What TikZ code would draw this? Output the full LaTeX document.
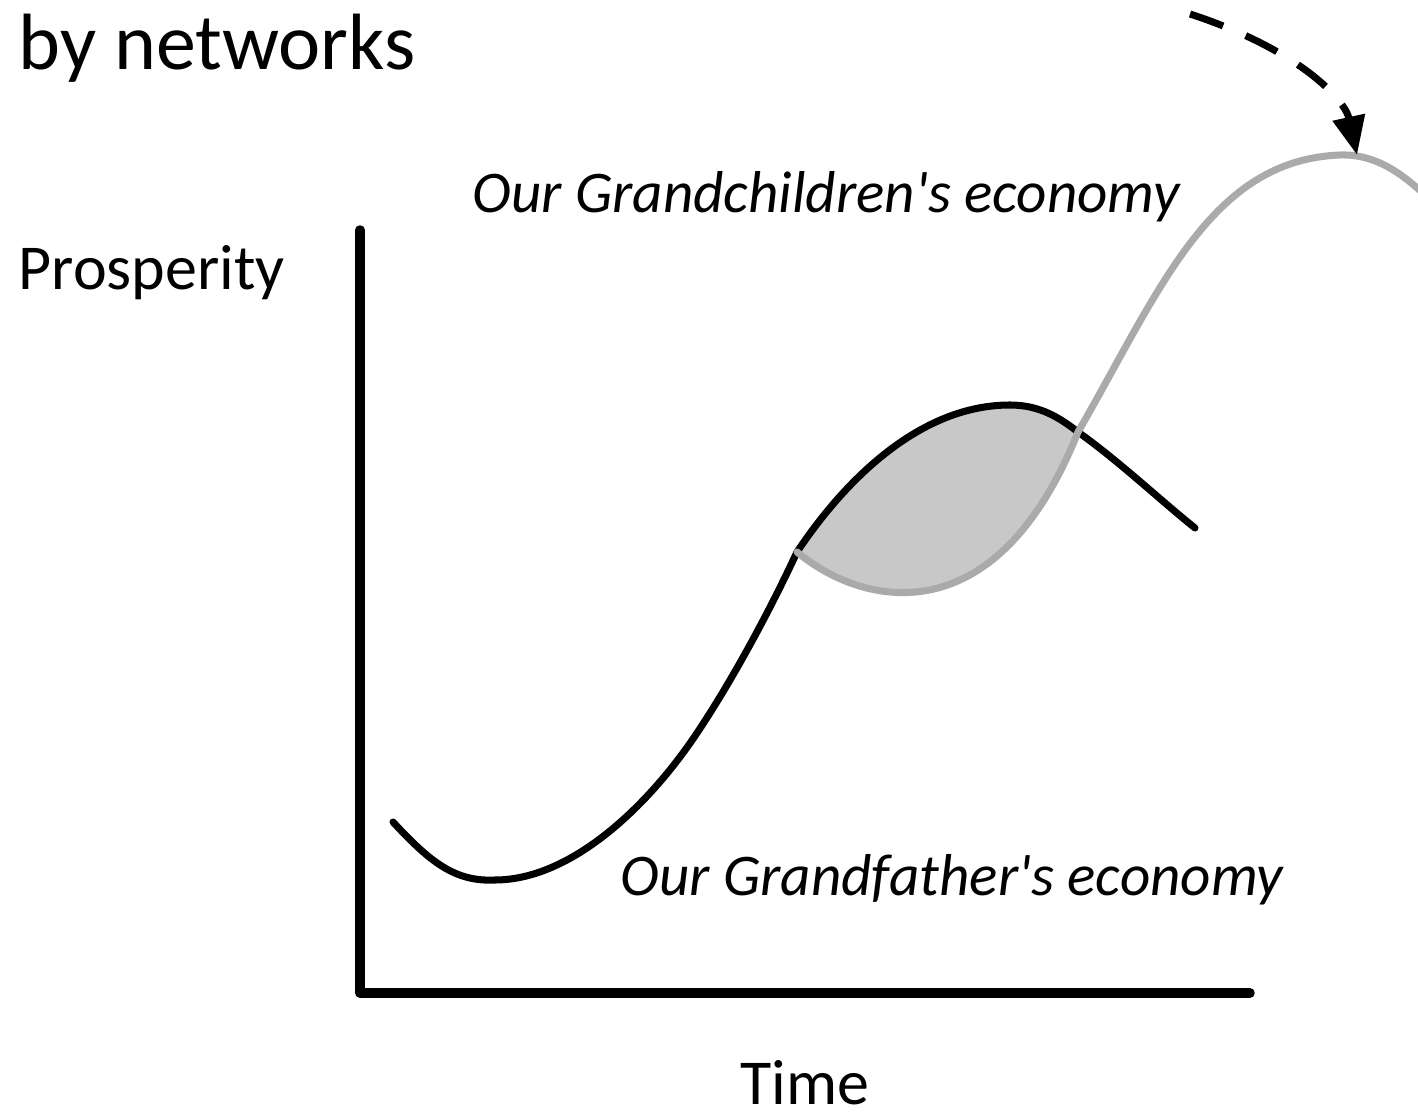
\documentclass[tikz,border=0pt]{standalone}
\usepackage{fontspec}
\setmainfont{Carlito}
\usetikzlibrary{arrows.meta}
\definecolor{newline}{HTML}{AAAAAA}
\definecolor{overlap}{HTML}{C8C8C8}
\tikzset{
  axis/.style={line width=2.7pt, line cap=round, line join=round},
  curve/.style={line width=2pt, line cap=round},
  label/.style={inner sep=0pt, anchor=base west, font=\fontsize{18.2}{22}\selectfont},
  tag/.style={inner sep=0pt, anchor=base west, font=\fontsize{16.8}{20}\selectfont\itshape}
}
\begin{document}
\begin{tikzpicture}[x=0.01cm, y=-0.01cm]
            \useasboundingbox (0,0) rectangle (1418,1116);
            % points on the curves
            \coordinate (origin) at (360,993);
            \coordinate (ytop) at (360,230);
            \coordinate (xend) at (1250,993);
            \coordinate (start) at (393,822);
            \coordinate (low) at (495,880);
            \coordinate (rise) at (697,733);
            \coordinate (split) at (797,552);
            \coordinate (peak) at (1010,405);
            \coordinate (cross) at (1078,432);
            \coordinate (stop) at (1195,528);
            \coordinate (summit) at (1340,155);
            \coordinate (exit) at (1425,195);
            \coordinate (from) at (1190,14);
            % shaded overlap
            \fill [overlap] (split) .. controls (845,480) and (920,405) .. (peak)
                .. controls (1040,405) and (1060,418) .. (cross)
                .. controls (995,640) and (860,605) .. (split) -- cycle;
            % axes
            \draw [axis] (ytop) -- (origin) -- (xend);
            % old economy
            \draw [curve] (start) .. controls (430,862) and (455,882) .. (low)
                .. controls (570,880) and (647,808) .. (rise)
                .. controls (735,676) and (772,606) .. (split)
                .. controls (845,480) and (920,405) .. (peak)
                .. controls (1040,405) and (1060,418) .. (cross)
                .. controls (1120,462) and (1160,500) .. (stop);
            % new economy
            \draw [curve, newline] (split) .. controls (860,605) and (995,640) .. (cross)
                .. controls (1160,290) and (1210,160) .. (summit)
                .. controls (1375,154) and (1400,172) .. (exit);
            \draw [curve, line cap=butt, dash pattern=on 10pt off 7pt, -{Triangle[length=11pt,width=9pt]}]
                (from) .. controls (1300,50) and (1345,100) .. (1357,155);
            % texts
            \node [label, font=\fontsize{22.7}{27}\selectfont] (title) at (18,70) {by networks};
            \node [label] (yname) at (18,290) {Prosperity};
            \node [label] (xname) at (740,1104) {Time};
            \node [tag] (newname) at (472,213) {Our Grandchildren\textquotesingle s economy};
            \node [tag] (oldname) at (620,895) {Our Grandfather\textquotesingle s economy};
\end{tikzpicture}
\end{document}
